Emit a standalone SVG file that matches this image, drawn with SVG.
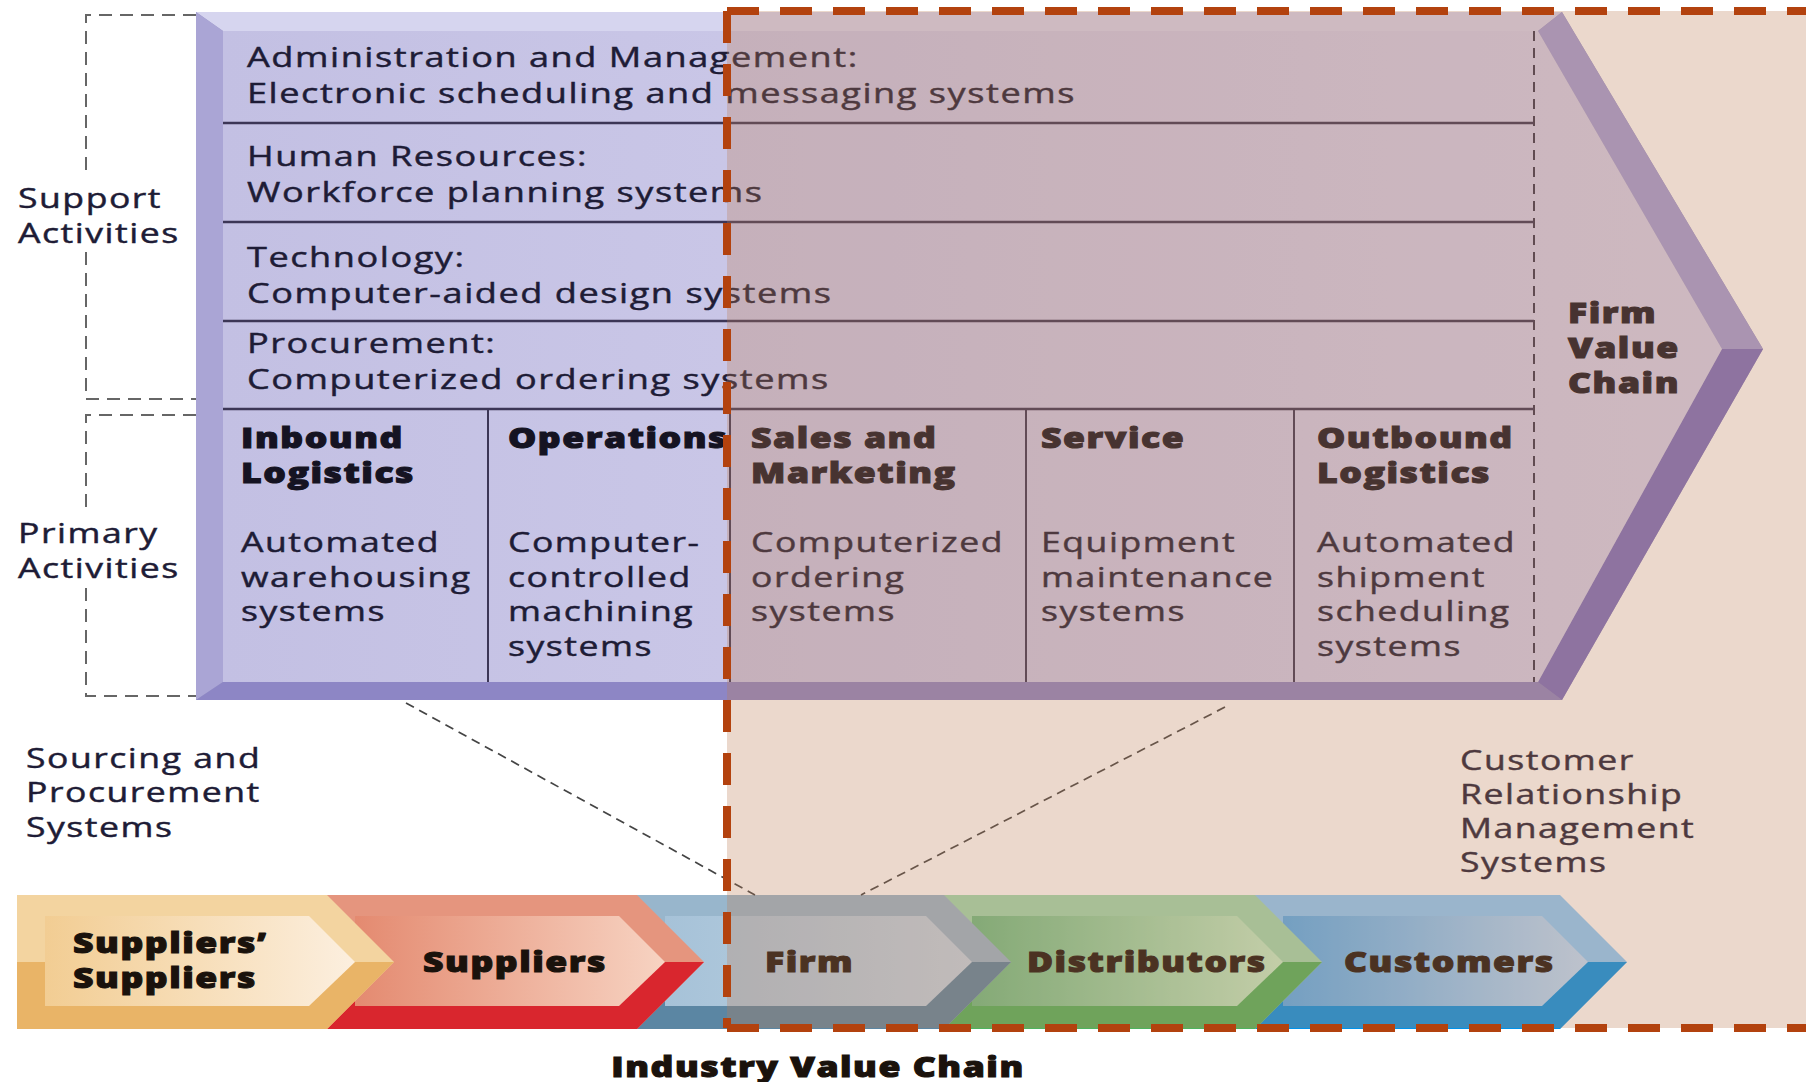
<svg xmlns="http://www.w3.org/2000/svg" width="1806" height="1082" viewBox="0 0 1806 1082">
<style>
.t{font-family:"Open Sans","Liberation Sans",sans-serif;font-size:28px;fill:#1e1c36;stroke:#1e1c36;stroke-width:0.45;letter-spacing:1.2px}
.b{font-weight:800;fill:#151322;stroke:#151322;stroke-width:1}
.bb{font-weight:800;fill:#1a120c;stroke:#1a120c;stroke-width:1}
.row{stroke:#3c3656;stroke-width:2.5;fill:none}
.col{stroke:#3c3656;stroke-width:2;fill:none}
.gdash{stroke:#666;stroke-width:2;stroke-dasharray:13 8;fill:none}
.conn{stroke:#444;stroke-width:1.7;stroke-dasharray:9 6;fill:none}
.orange{stroke:#b3420e;stroke-width:8;stroke-dasharray:32 21;fill:none}
</style>
<defs>
<linearGradient id="face" x1="0" y1="0" x2="1" y2="0"><stop offset="0" stop-color="#c3c0e3"/><stop offset="1" stop-color="#d5d2ee"/></linearGradient>
<linearGradient id="gTan" x1="0" y1="0" x2="1" y2="0"><stop offset="0" stop-color="#f2cd93"/><stop offset="1" stop-color="#fcefdf"/></linearGradient>
<linearGradient id="gRed" x1="0" y1="0" x2="1" y2="0"><stop offset="0" stop-color="#e48a70"/><stop offset="1" stop-color="#f7d3c2"/></linearGradient>
<linearGradient id="gFirm" x1="0" y1="0" x2="1" y2="0"><stop offset="0" stop-color="#a6c2d8"/><stop offset="1" stop-color="#c3d6e5"/></linearGradient>
<linearGradient id="gGreen" x1="0" y1="0" x2="1" y2="0"><stop offset="0" stop-color="#6cbd85"/><stop offset="1" stop-color="#c6f0cc"/></linearGradient>
<linearGradient id="gBlue" x1="0" y1="0" x2="1" y2="0"><stop offset="0" stop-color="#55aef0"/><stop offset="1" stop-color="#bfe0ff"/></linearGradient>
</defs>
<rect width="1806" height="1082" fill="#ffffff"/>

<!-- left dashed brackets and labels -->
<g id="support-activities">
<path class="gdash" d="M196,15 H86 V178 M86,252 V399 H196"/>
<text class="t" transform="translate(18 0) scale(1.27 1)"><tspan x="0" y="208">Support</tspan><tspan x="0" y="243">Activities</tspan></text>
</g>
<g id="primary-activities">
<path class="gdash" d="M196,415 H86 V512 M86,588 V696 H196"/>
<text class="t" transform="translate(18 0) scale(1.27 1)"><tspan x="0" y="543">Primary</tspan><tspan x="0" y="578">Activities</tspan></text>
</g>

<!-- firm value chain box -->
<g id="firm-value-chain">
<polygon points="196,12 1562,12 1763,349 1562,700 196,700" fill="#9c98c8"/>
<polygon points="196,12 1562,12 1538,31 223,31" fill="#d6d5ef"/>
<polygon points="196,12 223,31 223,682 196,700" fill="#aaa5d5"/>
<polygon points="196,700 1562,700 1538,682 223,682" fill="#8d86c5"/>
<polygon points="1562,12 1763,349 1722,349 1538,31" fill="#a29ed8"/>
<polygon points="1763,349 1562,700 1538,682 1722,349" fill="#7a6fc0"/>
<polygon points="223,31 1538,31 1722,349 1538,682 223,682" fill="url(#face)"/>
<path d="M1534,31 V682" stroke="#3a3550" stroke-width="2" stroke-dasharray="10 7" fill="none"/>
<text class="t b" transform="translate(1568 0) scale(1.27 1)"><tspan x="0" y="323">Firm</tspan><tspan x="0" y="358">Value</tspan><tspan x="0" y="393">Chain</tspan></text>
</g>

<g id="support-rows">
<path class="row" d="M223,123 H1534 M223,222 H1534 M223,321 H1534 M223,409 H1534"/>
<g id="admin"><text class="t" transform="translate(247 0) scale(1.29 1)"><tspan x="0" y="67">Administration and Management:</tspan><tspan x="0" y="103">Electronic scheduling and messaging systems</tspan></text></g>
<g id="hr"><text class="t" transform="translate(247 0) scale(1.29 1)"><tspan x="0" y="166">Human Resources:</tspan><tspan x="0" y="202">Workforce planning systems</tspan></text></g>
<g id="technology"><text class="t" transform="translate(247 0) scale(1.29 1)"><tspan x="0" y="267">Technology:</tspan><tspan x="0" y="303">Computer-aided design systems</tspan></text></g>
<g id="procurement"><text class="t" transform="translate(247 0) scale(1.29 1)"><tspan x="0" y="353">Procurement:</tspan><tspan x="0" y="389">Computerized ordering systems</tspan></text></g>
</g>

<g id="primary-columns">
<path class="col" d="M488,409 V682 M730,409 V682 M1026,409 V682 M1294,409 V682"/>
<g id="inbound"><text class="t" transform="translate(241 0) scale(1.27 1)"><tspan class="b" x="0" y="448">Inbound</tspan><tspan class="b" x="0" y="483">Logistics</tspan><tspan x="0" y="552">Automated</tspan><tspan x="0" y="587">warehousing</tspan><tspan x="0" y="621">systems</tspan></text></g>
<g id="operations"><text class="t" transform="translate(508 0) scale(1.27 1)"><tspan class="b" x="0" y="448">Operations</tspan><tspan x="0" y="552">Computer-</tspan><tspan x="0" y="587">controlled</tspan><tspan x="0" y="621">machining</tspan><tspan x="0" y="656">systems</tspan></text></g>
<g id="sales"><text class="t" transform="translate(751 0) scale(1.27 1)"><tspan class="b" x="0" y="448">Sales and</tspan><tspan class="b" x="0" y="483">Marketing</tspan><tspan x="0" y="552">Computerized</tspan><tspan x="0" y="587">ordering</tspan><tspan x="0" y="621">systems</tspan></text></g>
<g id="service"><text class="t" transform="translate(1041 0) scale(1.27 1)"><tspan class="b" x="0" y="448">Service</tspan><tspan x="0" y="552">Equipment</tspan><tspan x="0" y="587">maintenance</tspan><tspan x="0" y="621">systems</tspan></text></g>
<g id="outbound"><text class="t" transform="translate(1317 0) scale(1.27 1)"><tspan class="b" x="0" y="448">Outbound</tspan><tspan class="b" x="0" y="483">Logistics</tspan><tspan x="0" y="552">Automated</tspan><tspan x="0" y="587">shipment</tspan><tspan x="0" y="621">scheduling</tspan><tspan x="0" y="656">systems</tspan></text></g>
</g>

<g id="sourcing-label"><text class="t" transform="translate(26 0) scale(1.27 1)"><tspan x="0" y="768">Sourcing and</tspan><tspan x="0" y="802">Procurement</tspan><tspan x="0" y="837">Systems</tspan></text></g>
<g id="crm-label"><text class="t" transform="translate(1460 0) scale(1.27 1)"><tspan x="0" y="770">Customer</tspan><tspan x="0" y="804">Relationship</tspan><tspan x="0" y="838">Management</tspan><tspan x="0" y="872">Systems</tspan></text></g>

<!-- industry value chain chevrons (drawn right to left) -->
<g id="customers">
<polygon points="1255,895 1560,895 1627,962 1560,1029 1255,1029" fill="#8ccdff"/>
<polygon points="1255,962 1627,962 1560,1029 1255,1029" fill="#0092eb"/>
<polygon points="1283,916 1542,916 1588,962 1542,1006 1283,1006" fill="url(#gBlue)"/>
<text class="t bb" transform="translate(1344 972) scale(1.27 1)">Customers</text>
</g>
<g id="distributors">
<polygon points="944,895 1255,895 1322,962 1255,1029 944,1029" fill="#9fdcb2"/>
<polygon points="944,962 1322,962 1255,1029 944,1029" fill="#4eb35e"/>
<polygon points="972,916 1237,916 1283,962 1237,1006 972,1006" fill="url(#gGreen)"/>
<text class="t bb" transform="translate(1027 972) scale(1.27 1)">Distributors</text>
</g>
<g id="firm">
<polygon points="637,895 944,895 1011,962 944,1029 637,1029" fill="#98b6cc"/>
<polygon points="637,962 1011,962 944,1029 637,1029" fill="#5b86a3"/>
<polygon points="665,916 926,916 972,962 926,1006 665,1006" fill="url(#gFirm)"/>
<text class="t bb" transform="translate(765 972) scale(1.27 1)">Firm</text>
</g>
<g id="suppliers">
<polygon points="327,895 637,895 704,962 637,1029 327,1029" fill="#e5957e"/>
<polygon points="327,962 704,962 637,1029 327,1029" fill="#d9262e"/>
<polygon points="355,916 619,916 665,962 619,1006 355,1006" fill="url(#gRed)"/>
<text class="t bb" transform="translate(423 972) scale(1.27 1)">Suppliers</text>
</g>
<g id="suppliers-suppliers">
<polygon points="17,895 327,895 394,962 327,1029 17,1029" fill="#f3d4a0"/>
<polygon points="17,962 394,962 327,1029 17,1029" fill="#e9b467"/>
<polygon points="45,916 309,916 355,962 309,1006 45,1006" fill="url(#gTan)"/>
<text class="t bb" transform="translate(73 0) scale(1.27 1)"><tspan x="0" y="953">Suppliers’</tspan><tspan x="0" y="988">Suppliers</tspan></text>
</g>

<g id="connectors">
<path class="conn" d="M406,703 L755,895"/>
<path class="conn" d="M1225,707 L861,895"/>
</g>

<!-- customer-facing region overlay -->
<g id="crm-region">
<rect x="727" y="11" width="1079" height="1017" fill="#bc7d55" opacity="0.3"/>
<path class="orange" d="M727,11 H1806 M727,11 V1028 M727,1028 H1806"/>
</g>

<g id="industry-label"><text class="t bb" text-anchor="middle" transform="translate(818 1077) scale(1.27 1)">Industry Value Chain</text></g>
</svg>
